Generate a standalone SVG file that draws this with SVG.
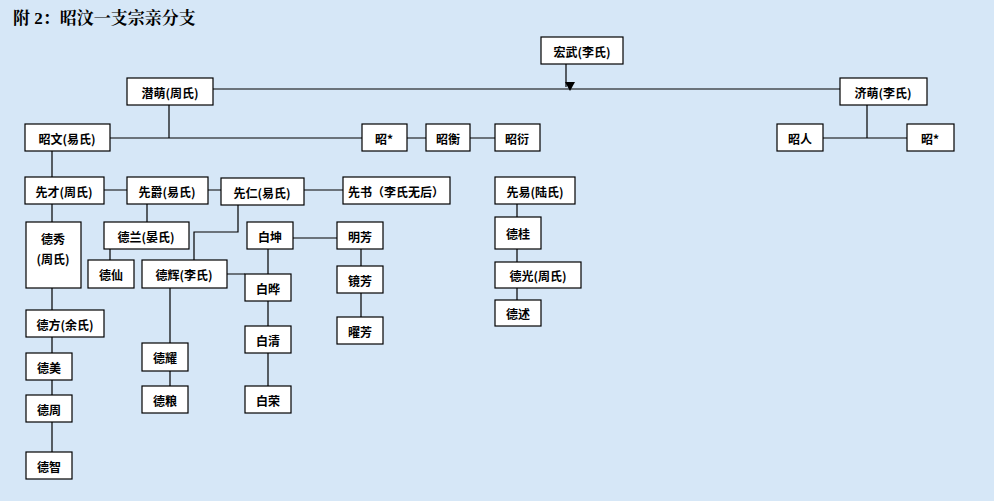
<svg xmlns="http://www.w3.org/2000/svg" width="994" height="501" viewBox="0 0 994 501">
<defs>
<marker id="arr" markerWidth="10" markerHeight="10" refX="5" refY="9" orient="auto" markerUnits="userSpaceOnUse"><path d="M0,0 L10,0 L5,9 Z" fill="#000" transform="rotate(-90 5 5)"/></marker>
<style>
.n rect{fill:#fff;stroke:#000;stroke-width:1.2}
.n text{font-family:"Noto Sans CJK SC",sans-serif;font-size:12px;font-weight:bold;text-anchor:middle;dominant-baseline:central;fill:#000}
#c path{fill:none;stroke:#000;stroke-width:1.2}
</style>
</defs>
<rect width="994" height="501" fill="#d6e7f7"/>
<text x="13" y="24" font-family="Liberation Serif,Noto Serif CJK SC,Noto Sans CJK SC,serif" font-size="17" font-weight="bold">附 2：昭汶一支宗亲分支</text>
<g id="c">
<path d="M200,89 H840"/>
<path d="M566,64 V87" marker-end="url(#arr)"/>
<path d="M169,105 V138 M110,138 H362 M407,138 H426 M470,138 H495"/>
<path d="M867,105 V138 M823,138 H907"/>
<path d="M52,151 V177 M104,190 H127 M208,190 H221 M304,190 H343"/>
<path d="M52,204 V222 M52,288 V310 M52,337 V353 M52,380 V395 M52,422 V452"/>
<path d="M147,204 V222 M110,249 V260"/>
<path d="M238,205 V232 H194 V260"/>
<path d="M227,274 H245 M170,288 V343 M170,371 V386"/>
<path d="M268,249 V274 M268,301 V326 M268,353 V386"/>
<path d="M293,238 H337 M361,249 V266 M361,293 V317"/>
<path d="M517,204 V217 M517,249 V262 M517,288 V300"/>
</g>
<g id="hongwu" class="n"><rect x="541" y="37" width="82" height="27"/><text x="582" y="51">宏武(李氏)</text></g>
<g id="qianmeng" class="n"><rect x="127" y="78" width="86" height="27"/><text x="170" y="92">潜萌(周氏)</text></g>
<g id="jimeng" class="n"><rect x="840" y="78" width="87" height="27"/><text x="883" y="92">济萌(李氏)</text></g>
<g id="zhaowen" class="n"><rect x="25" y="124" width="85" height="27"/><text x="67" y="138">昭文(易氏)</text></g>
<g id="zhao1" class="n"><rect x="362" y="124" width="45" height="27"/><text x="384" y="138">昭*</text></g>
<g id="zhaoheng" class="n"><rect x="426" y="124" width="44" height="27"/><text x="448" y="138">昭衡</text></g>
<g id="zhaoyan" class="n"><rect x="495" y="124" width="45" height="27"/><text x="517" y="138">昭衍</text></g>
<g id="zhaoren" class="n"><rect x="777" y="124" width="46" height="27"/><text x="800" y="138">昭人</text></g>
<g id="zhao2" class="n"><rect x="907" y="124" width="47" height="27"/><text x="930" y="138">昭*</text></g>
<g id="xiancai" class="n"><rect x="25" y="177" width="79" height="27"/><text x="64" y="191">先才(周氏)</text></g>
<g id="xianjue" class="n"><rect x="127" y="177" width="81" height="27"/><text x="167" y="191">先爵(易氏)</text></g>
<g id="xianren" class="n"><rect x="221" y="178" width="83" height="27"/><text x="262" y="192">先仁(易氏)</text></g>
<g id="xianshu" class="n"><rect x="343" y="177" width="107" height="27"/><text x="396" y="191">先书（李氏无后）</text></g>
<g id="xianyi" class="n"><rect x="495" y="177" width="80" height="27"/><text x="535" y="191">先易(陆氏)</text></g>
<g id="dexiu" class="n"><rect x="26" y="222" width="55" height="66"/><text x="53" y="238">德秀</text><text x="53" y="258">(周氏)</text></g>
<g id="delan" class="n"><rect x="104" y="222" width="85" height="27"/><text x="146" y="236">德兰(晏氏)</text></g>
<g id="dexian" class="n"><rect x="88" y="260" width="46" height="28"/><text x="111" y="274">德仙</text></g>
<g id="dehui" class="n"><rect x="142" y="260" width="85" height="28"/><text x="184" y="274">德辉(李氏)</text></g>
<g id="baikun" class="n"><rect x="247" y="222" width="46" height="27"/><text x="270" y="236">白坤</text></g>
<g id="mingfang" class="n"><rect x="337" y="222" width="46" height="27"/><text x="360" y="236">明芳</text></g>
<g id="baiye" class="n"><rect x="245" y="274" width="46" height="27"/><text x="268" y="288">白晔</text></g>
<g id="jingfang" class="n"><rect x="337" y="266" width="46" height="27"/><text x="360" y="280">镜芳</text></g>
<g id="yaofang" class="n"><rect x="337" y="317" width="46" height="27"/><text x="360" y="331">曜芳</text></g>
<g id="defang" class="n"><rect x="26" y="310" width="78" height="27"/><text x="65" y="324">德方(余氏)</text></g>
<g id="demei" class="n"><rect x="26" y="353" width="46" height="27"/><text x="49" y="367">德美</text></g>
<g id="deyao" class="n"><rect x="142" y="343" width="46" height="28"/><text x="165" y="357">德耀</text></g>
<g id="baiqing" class="n"><rect x="245" y="326" width="46" height="27"/><text x="268" y="340">白清</text></g>
<g id="dezhou" class="n"><rect x="26" y="395" width="46" height="27"/><text x="49" y="409">德周</text></g>
<g id="deliang" class="n"><rect x="142" y="386" width="46" height="27"/><text x="165" y="400">德粮</text></g>
<g id="bairong" class="n"><rect x="245" y="386" width="46" height="27"/><text x="268" y="400">白荣</text></g>
<g id="dezhi" class="n"><rect x="26" y="452" width="46" height="27"/><text x="49" y="466">德智</text></g>
<g id="degui" class="n"><rect x="495" y="217" width="46" height="32"/><text x="518" y="233">德桂</text></g>
<g id="deguang" class="n"><rect x="495" y="262" width="86" height="26"/><text x="538" y="275">德光(周氏)</text></g>
<g id="deshu" class="n"><rect x="495" y="300" width="46" height="26"/><text x="518" y="313">德述</text></g>
</svg>
